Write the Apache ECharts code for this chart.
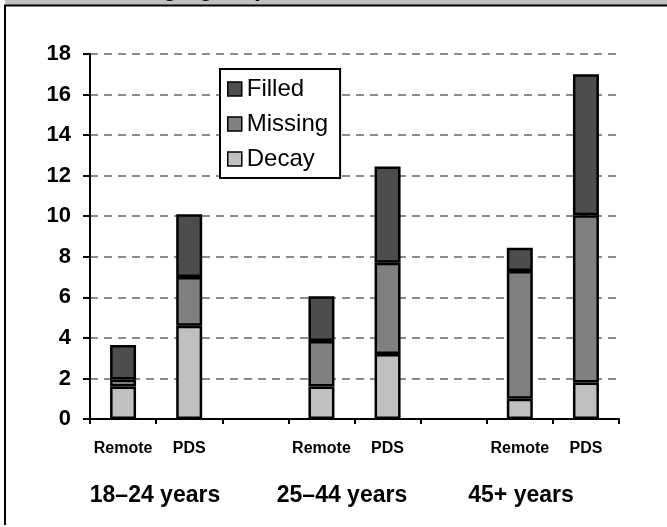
<!DOCTYPE html>
<html>
<head>
<meta charset="utf-8">
<script src="https://cdn.jsdelivr.net/npm/echarts@6/dist/echarts.min.js"></script>
<style>
  html, body { margin: 0; padding: 0; background: #fff; }
  #chart { width: 667px; height: 527px; }
</style>
</head>
<body>
<div id="chart"></div>
<script>
// Mean DMFT components per age group, Remote vs PDS
const categories = ['Remote', 'PDS', '', 'Remote', 'PDS', '', 'Remote', 'PDS'];
const ageGroups = ['18–24 years', '25–44 years', '45+ years'];
const decay   = [1.6, 4.6, null, 1.6, 3.2, null, 1.0, 1.8];
const missing = [0.35, 2.4, null, 2.25, 4.5, null, 6.3, 8.25];
const filled  = [1.7, 3.1, null, 2.2, 4.75, null, 1.15, 6.95];
const yTicks = { min: 0, max: 18, interval: 2 };

const FONT = '"Liberation Sans", Arial, Helvetica, sans-serif';

const chart = echarts.init(document.getElementById('chart'), null, { renderer: 'canvas' });

function barSeries(name, data, color) {
  return {
    name: name,
    type: 'bar',
    stack: 'dmft',
    data: data,
    barWidth: 26,
    itemStyle: { color: color, borderColor: '#000', borderWidth: 2.5 },
    emphasis: { disabled: true }
  };
}

// group captions beneath the paired bars
const groupCentres = [155, 342, 521];
const groupLabels = ageGroups.map((t, i) => ({
  type: 'text',
  x: groupCentres[i],
  y: 496,
  style: {
    text: t,
    font: 'bold 23px ' + FONT,
    fill: '#000',
    align: 'center',
    verticalAlign: 'middle'
  }
}));

const option = {
  animation: false,
  backgroundColor: '#fff',
  grid: { left: 90, right: 48, top: 54, bottom: 108, containLabel: false },
  legend: {
    data: ['Filled', 'Missing', 'Decay'],
    orient: 'vertical',
    left: 220,
    top: 69,
    padding: [8, 12, 7, 7],
    itemGap: 11,
    itemWidth: 14,
    itemHeight: 14,
    itemTextGap: 8,
    icon: 'rect',
    backgroundColor: '#fff',
    borderColor: '#000',
    borderWidth: 2,
    borderRadius: 0,
    itemStyle: { borderColor: '#000', borderWidth: 1.5 },
    textStyle: { fontFamily: FONT, fontSize: 24, color: '#000' },
    selectedMode: false
  },
  xAxis: {
    type: 'category',
    data: categories,
    axisLine: { show: true, lineStyle: { color: '#000', width: 2 } },
    axisTick: { show: true, length: 5, alignWithLabel: false, lineStyle: { color: '#000', width: 2 } },
    axisLabel: {
      interval: 0,
      margin: 22,
      fontFamily: FONT,
      fontWeight: 'bold',
      fontSize: 16,
      color: '#000'
    },
    splitLine: { show: false }
  },
  yAxis: {
    type: 'value',
    min: yTicks.min,
    max: yTicks.max,
    interval: yTicks.interval,
    axisLine: { show: true, lineStyle: { color: '#000', width: 2 } },
    axisTick: { show: true, length: 7, lineStyle: { color: '#000', width: 2 } },
    axisLabel: {
      margin: 19,
      fontFamily: FONT,
      fontWeight: 'bold',
      fontSize: 22,
      color: '#000'
    },
    splitLine: { show: true, lineStyle: { color: '#666', width: 1.5, type: [8, 6] } }
  },
  series: [
    barSeries('Decay', decay, '#c0c0c0'),
    barSeries('Missing', missing, '#808080'),
    barSeries('Filled', filled, '#4d4d4d')
  ],
  graphic: [
    // header band with the chart heading, mostly above the frame
    { type: 'rect', shape: { x: 5, y: 0, width: 662, height: 5 }, style: { fill: '#c0c0c0' }, z: 1 },
    {
      type: 'text', x: 148.5, y: -11, z: 2,
      style: { text: 'age group', font: 'bold 25px ' + FONT, fill: '#000', align: 'left', verticalAlign: 'middle' }
    },
    {
      type: 'text', x: 148.5, y: -11, z: 2,
      style: { text: 'Mean DMFT in each ', font: 'bold 25px ' + FONT, fill: '#000', align: 'right', verticalAlign: 'middle' }
    },
    { type: 'line', shape: { x1: 4, y1: 5.5, x2: 667, y2: 5.5 }, style: { stroke: '#000', lineWidth: 2 }, z: 3 },
    { type: 'line', shape: { x1: 5, y1: 5, x2: 5, y2: 525 }, style: { stroke: '#000', lineWidth: 2 }, z: 3 }
  ].concat(groupLabels)
};

chart.setOption(option);
</script>
</body>
</html>
